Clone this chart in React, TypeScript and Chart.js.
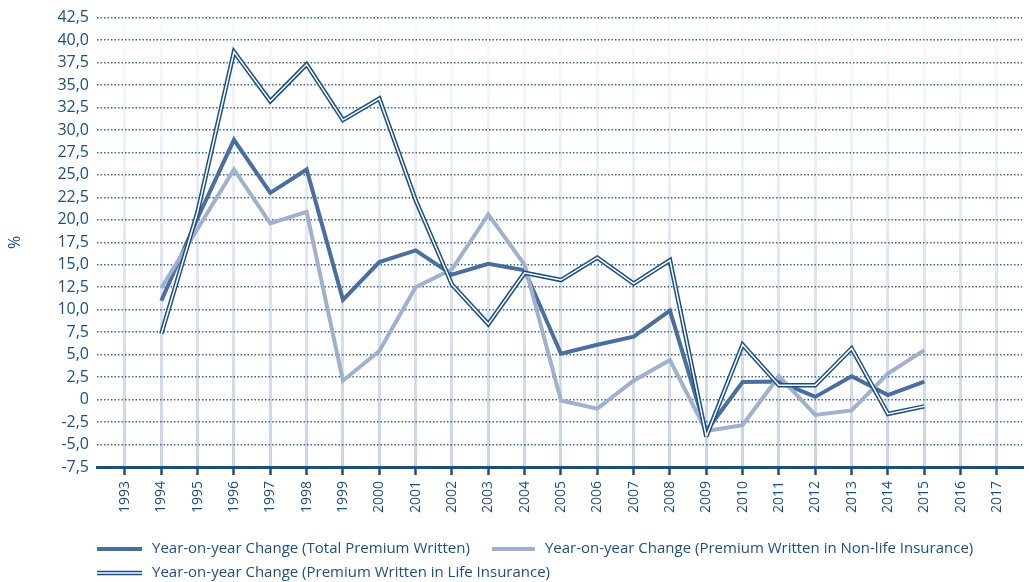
import React, { useEffect, useRef } from "react";
import { Chart, registerables } from "chart.js";

Chart.register(...registerables);

const years = [1994, 1995, 1996, 1997, 1998, 1999, 2000, 2001, 2002, 2003, 2004, 2005, 2006, 2007, 2008, 2009, 2010, 2011, 2012, 2013, 2014, 2015];
const tickYears = [1993, 1994, 1995, 1996, 1997, 1998, 1999, 2000, 2001, 2002, 2003, 2004, 2005, 2006, 2007, 2008, 2009, 2010, 2011, 2012, 2013, 2014, 2015, 2016, 2017];
const totalPremium = [11.0, 20.2, 28.9, 23.0, 25.6, 11.1, 15.3, 16.6, 13.9, 15.1, 14.4, 5.1, 6.1, 7.0, 9.9, -3.5, 1.95, 2.0, 0.3, 2.6, 0.5, 2.0];
const nonLifePremium = [12.4, 19.0, 25.6, 19.6, 20.9, 2.1, 5.4, 12.5, 14.5, 20.6, 15.0, -0.1, -1.0, 2.1, 4.4, -3.5, -2.85, 2.6, -1.7, -1.2, 2.9, 5.5];
const lifePremium = [7.3, 20.9, 38.7, 33.2, 37.3, 31.1, 33.5, 22.2, 12.8, 8.4, 14.1, 13.3, 15.8, 12.9, 15.5, -4.1, 6.1, 1.6, 1.6, 5.7, -1.6, -0.75];
const seriesLabels = [
  "Year-on-year Change (Total Premium Written)",
  "Year-on-year Change (Premium Written in Non-life Insurance)",
  "Year-on-year Change (Premium Written in Life Insurance)",
];
const yMin = -7.5;
const yMax = 42.5;
const yStep = 2.5;

const TEXT = "#1c4f80";
const DARK = "#1b4f82";
const MID = "#4a6ea0";
const LIGHT = "#a0b1ce";
const FONT = '"Open Sans", sans-serif';

const toPoints = (vals: number[]) => vals.map((v, i) => ({ x: years[i], y: v }));

const legendPlugin = {
  id: "customLegend",
  afterDraw(chart: any) {
    const ctx = chart.ctx as CanvasRenderingContext2D;
    ctx.save();
    ctx.font = `15px ${FONT}`;
    ctx.fillStyle = TEXT;
    ctx.textBaseline = "middle";
    ctx.textAlign = "left";
    const row1 = 549;
    const row2 = 573;
    const x0 = 97;
    const sampleW = 45;
    ctx.lineCap = "butt";
    ctx.strokeStyle = MID;
    ctx.lineWidth = 4;
    ctx.beginPath();
    ctx.moveTo(x0, row1);
    ctx.lineTo(x0 + sampleW, row1);
    ctx.stroke();
    ctx.fillText(seriesLabels[0], x0 + 55, row1);
    const w1 = ctx.measureText(seriesLabels[0]).width;
    const x2 = x0 + 55 + w1 + 22;
    ctx.strokeStyle = LIGHT;
    ctx.beginPath();
    ctx.moveTo(x2, row1);
    ctx.lineTo(x2 + 43, row1);
    ctx.stroke();
    ctx.fillText(seriesLabels[1], x2 + 53, row1);
    ctx.strokeStyle = DARK;
    ctx.lineWidth = 4.5;
    ctx.beginPath();
    ctx.moveTo(x0, row2);
    ctx.lineTo(x0 + sampleW, row2);
    ctx.stroke();
    ctx.strokeStyle = "#ffffff";
    ctx.lineWidth = 1.5;
    ctx.beginPath();
    ctx.moveTo(x0, row2);
    ctx.lineTo(x0 + sampleW, row2);
    ctx.stroke();
    ctx.fillText(seriesLabels[2], x0 + 55, row2);
    ctx.restore();
  },
};

export default function App() {
  const ref = useRef<HTMLCanvasElement | null>(null);

  useEffect(() => {
    document.body.style.margin = "0";
    if (!ref.current) return;
    const common = {
      pointRadius: 0,
      pointHoverRadius: 0,
      borderJoinStyle: "miter" as const,
      borderCapStyle: "butt" as const,
      tension: 0,
      fill: false,
    };
    const chart = new Chart(ref.current, {
      type: "line",
      data: {
        datasets: [
          { ...common, label: seriesLabels[2] + " inner", data: toPoints(lifePremium), borderColor: "#ffffff", borderWidth: 1.5 },
          { ...common, label: seriesLabels[2], data: toPoints(lifePremium), borderColor: DARK, borderWidth: 4.5 },
          { ...common, label: seriesLabels[1], data: toPoints(nonLifePremium), borderColor: LIGHT, borderWidth: 4 },
          { ...common, label: seriesLabels[0], data: toPoints(totalPremium), borderColor: MID, borderWidth: 4 },
        ],
      },
      options: {
        responsive: false,
        animation: false,
        events: [],
        layout: { padding: { top: 13, right: 7, left: 0, bottom: 0 } },
        plugins: {
          legend: { display: false },
          tooltip: { enabled: false },
        },
        scales: {
          x: {
            type: "linear",
            min: 1992.23,
            max: 2017.69,
            afterBuildTicks: (scale: any) => {
              scale.ticks = tickYears.map((v) => ({ value: v }));
            },
            afterFit: (scale: any) => {
              scale.height = 115;
            },
            ticks: {
              autoSkip: false,
              maxRotation: 90,
              minRotation: 90,
              padding: 6,
              color: TEXT,
              font: { family: FONT, size: 14 },
              callback: (v: any) => String(v),
            },
            grid: {
              color: (c: any) => {
                const area = c.chart.chartArea;
                if (!area) return "#cfd8e8";
                const g = c.chart.ctx.createLinearGradient(0, area.top, 0, area.bottom);
                g.addColorStop(0, "rgba(207,216,232,0.1)");
                g.addColorStop(1, "rgba(200,211,230,1)");
                return g;
              },
              lineWidth: 3,
              tickColor: DARK,
              tickWidth: 2.5,
              tickLength: 8,
              drawOnChartArea: true,
            },
            border: { display: true, color: DARK, width: 3 },
          },
          y: {
            min: yMin,
            max: yMax,
            afterFit: (scale: any) => {
              scale.width = 97;
            },
            ticks: {
              stepSize: yStep,
              padding: 8,
              color: TEXT,
              font: { family: FONT, size: 16 },
              callback: (v: any) => (Number(v) === 0 ? "0" : Number(v).toFixed(1).replace(".", ",")),
            },
            grid: {
              color: "#3a6690",
              lineWidth: 1.5,
              drawTicks: false,
            },
            border: { display: false, dash: [1.5, 2] },
            title: {
              display: true,
              text: "%",
              color: TEXT,
              font: { family: FONT, size: 16 },
              padding: 6,
            },
          },
        },
      },
      plugins: [
        legendPlugin,
        {
          id: "miter",
          beforeDatasetsDraw(chart: any) {
            chart.ctx.miterLimit = 3;
          },
        },
      ],
    });
    return () => chart.destroy();
  }, []);

  return (
    <div style={{ width: 1029, height: 582 }}>
      <canvas ref={ref} width={1029} height={582} style={{ display: "block" }} />
    </div>
  );
}
